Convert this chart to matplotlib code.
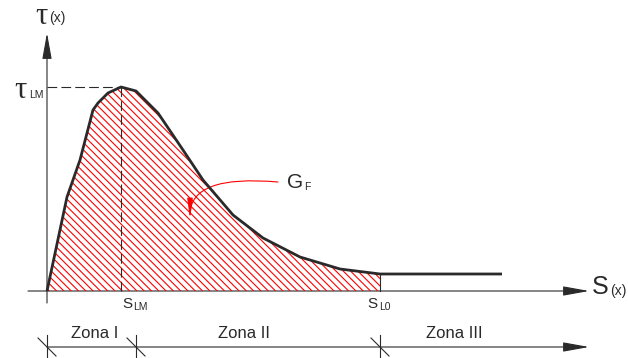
import numpy as np
import matplotlib.pyplot as plt
from matplotlib.patches import Polygon, FancyArrowPatch
from matplotlib.collections import LineCollection

plt.rcParams['font.family'] = ['Liberation Sans', 'DejaVu Sans']
plt.rcParams['lines.scale_dashes'] = False

# Data ------------------------------------------------------------------------
# bond-slip curve tau(x) over S(x), in drawing units
s_vals = [0, 20, 33, 46, 51, 61, 74, 89, 98, 111, 136, 156, 186, 216, 253, 293, 333]
tau_vals = [0, 94, 131, 181, 188, 198, 204, 200, 191, 178, 141, 111, 76, 53, 34, 22, 17]
s_end = 455
s_lm, tau_lm = 74, 204
s_l0 = 333
zone_edges = [0, 89, 333]
zone_names = ["Zona I", "Zona II", "Zona III"]
zone_centers = [48, 197, 407]

INK = "#2a2a2a"

# Figure ----------------------------------------------------------------------
fig = plt.figure(figsize=(6.28, 3.58), dpi=100)
ax = fig.add_axes([0, 0, 1, 1])
ax.set_xlim(-47, 581)
ax.set_ylim(-67, 291)
ax.axis("off")

# hatched area G_F
verts = list(zip(s_vals, tau_vals)) + [(s_l0, 0), (0, 0)]
area = Polygon(verts, closed=True, facecolor="none", edgecolor="none")
ax.add_patch(area)
segs = [[(c - 300, 300), (c + 300, -300)] for c in np.arange(-5, 560, 7.3)]
hatch = LineCollection(segs, colors="red", linewidths=0.8)
ax.add_collection(hatch)
hatch.set_clip_path(area)

# curve
ax.plot(s_vals + [s_end], tau_vals + [tau_vals[-1]], color=INK, lw=2.0,
        solid_joinstyle="round", solid_capstyle="butt")
ax.plot([s_l0, s_l0], [0, tau_vals[-1]], color=INK, lw=0.8)

# dashed guides to peak
ax.plot([0, s_lm], [tau_lm, tau_lm], color=INK, lw=0.8, ls=(0, (7, 3)))
ax.plot([s_lm, s_lm], [0, tau_lm], color=INK, lw=0.8, ls=(0, (7, 3)))


def arrow(p0, p1, hl=1.6, hw=0.29, color=INK, lw=0.8, conn="arc3"):
    a = FancyArrowPatch(p0, p1, arrowstyle=f"-|>,head_length={hl},head_width={hw}",
                        mutation_scale=10, lw=lw, color=color, shrinkA=0, shrinkB=0,
                        connectionstyle=conn)
    ax.add_patch(a)


# axes
arrow((-19, 0), (542, 0))
arrow((0, -12), (0, 258))

# zone dimension line
arrow((0, -56), (542, -56))
for e in zone_edges:
    ax.plot([e, e], [-44, -67], color=INK, lw=0.8)
    ax.plot([e - 9, e + 9], [-47, -65], color=INK, lw=0.8)
for name, xc in zip(zone_names, zone_centers):
    ax.text(xc, -42, name, ha="center", va="center", fontsize=12, color=INK)

# G_F annotation
arrow((231, 109), (143, 72), hl=1.2, hw=0.16, color="red", lw=0.8,
      conn="angle3,angleA=175,angleB=90")
ax.text(248, 109, "G", ha="center", va="center", fontsize=15, color=INK)
ax.text(260.5, 104, "F", ha="center", va="center", fontsize=7.5, color=INK)

# axis labels
ax.text(-6, 274, "τ", ha="center", va="center", fontsize=22, color=INK,
        family=["Liberation Serif", "DejaVu Serif"])
ax.text(10, 273, "(x)", ha="center", va="center", fontsize=10, color=INK)
ax.text(-27, 201, "τ", ha="center", va="center", fontsize=22, color=INK,
        family=["Liberation Serif", "DejaVu Serif"])
ax.text(-11, 196, "LM", ha="center", va="center", fontsize=7.5, color=INK)
ax.text(553, 4, "S", ha="center", va="center", fontsize=18, color=INK)
ax.text(571, 0, "(x)", ha="center", va="center", fontsize=10, color=INK)

# slip labels
ax.text(80, -13, "S", ha="center", va="center", fontsize=11, color=INK)
ax.text(93, -16, "LM", ha="center", va="center", fontsize=7.5, color=INK)
ax.text(325, -13, "S", ha="center", va="center", fontsize=11, color=INK)
ax.text(337.5, -15.5, "L0", ha="center", va="center", fontsize=7.5, color=INK)

fig.savefig("out.png", dpi=100)
